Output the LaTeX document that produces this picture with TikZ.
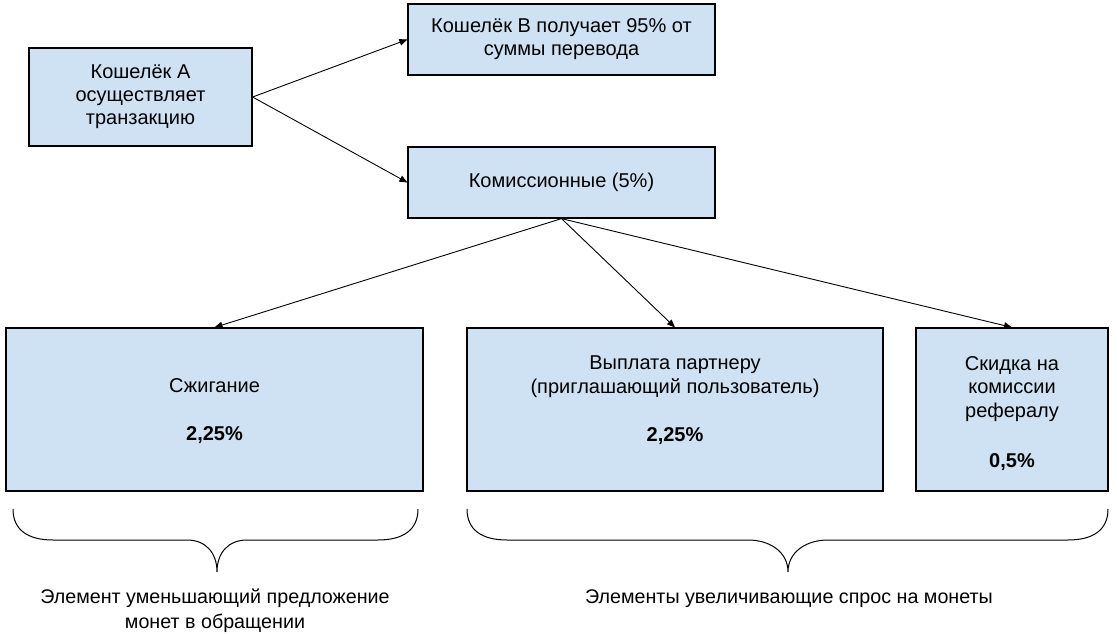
\documentclass[tikz,border=0pt]{standalone}
\usepackage{fontspec}
\setmainfont{Liberation Sans}
\usetikzlibrary{arrows.meta}
\definecolor{boxfill}{HTML}{CFE2F3}
\begin{document}
\begin{tikzpicture}[x=1pt,y=-1pt,
  box/.style={draw=black, fill=boxfill, line width=1.2pt, inner sep=0pt, align=center,
              font=\fontsize{20}{23}\selectfont},
  txt/.style={align=center, inner sep=0pt, font=\fontsize{20}{24}\selectfont},
  conn/.style={line width=0.9pt, -{Triangle[length=8pt,width=6.5pt]}},
  brace/.style={line width=1pt}]
\useasboundingbox (0,0) rectangle (1117,634);

% boxes
\node[box, minimum width=223pt, minimum height=98pt] (A) at (140.5,97)
  {Кошелёк А\\осуществляет\\транзакцию};
\node[box, minimum width=307pt, minimum height=71pt] (B) at (561.5,39.5)
  {Кошелёк В получает 95\% от\\суммы перевода};
\node[box, minimum width=307pt, minimum height=71pt] (C) at (561.5,182.5)
  {Комиссионные (5\%)};
\node[box, minimum width=417pt, minimum height=163pt] (D) at (214.5,409.5) {};
\node[box, minimum width=416pt, minimum height=163pt] (E) at (675,409.5) {};
\node[box, minimum width=192pt, minimum height=163pt] (F) at (1012,409.5) {};

% box texts
\node[txt] (Dt) at (214.5,411) {Сжигание\\[24pt]\textbf{2,25\%}};
\node[txt] (Et) at (675,400) {Выплата партнеру\\(приглашающий пользователь)\\[24pt]\textbf{2,25\%}};
\node[txt, font=\fontsize{20}{23.5}\selectfont] (Ft) at (1012,413.5) {Скидка на\\комиссии\\рефералу\\[26.5pt]\textbf{0,5\%}};

% connectors
\draw[conn] (A.east) -- (B.west);
\draw[conn] (A.east) -- (C.west);
\draw[conn] (C.south) -- (D.north);
\draw[conn] (C.south) -- (E.north);
\draw[conn] (C.south) -- (F.north);

% braces
\draw[brace] (13,509) .. controls (13,530) and (28,540) .. (53,540) -- (187,540)
  .. controls (205,540) and (217,552) .. (217,572)
  .. controls (217,552) and (229,540) .. (247,540) -- (378,540)
  .. controls (403,540) and (418,530) .. (418,509);
\draw[brace] (467,509) .. controls (467,530) and (482,540) .. (507,540) -- (748,540)
  .. controls (770,540) and (788,552) .. (788,572)
  .. controls (788,552) and (806,540) .. (828,540) -- (1068,540)
  .. controls (1093,540) and (1108,530) .. (1108,509);

% labels
\node[txt, font=\fontsize{19.7}{25}\selectfont] (L1) at (215,611) {Элемент уменьшающий предложение\\монет в обращении};
\node[txt, font=\fontsize{19.7}{25}\selectfont] (L2) at (789,599) {Элементы увеличивающие спрос на монеты};
\end{tikzpicture}
\end{document}
